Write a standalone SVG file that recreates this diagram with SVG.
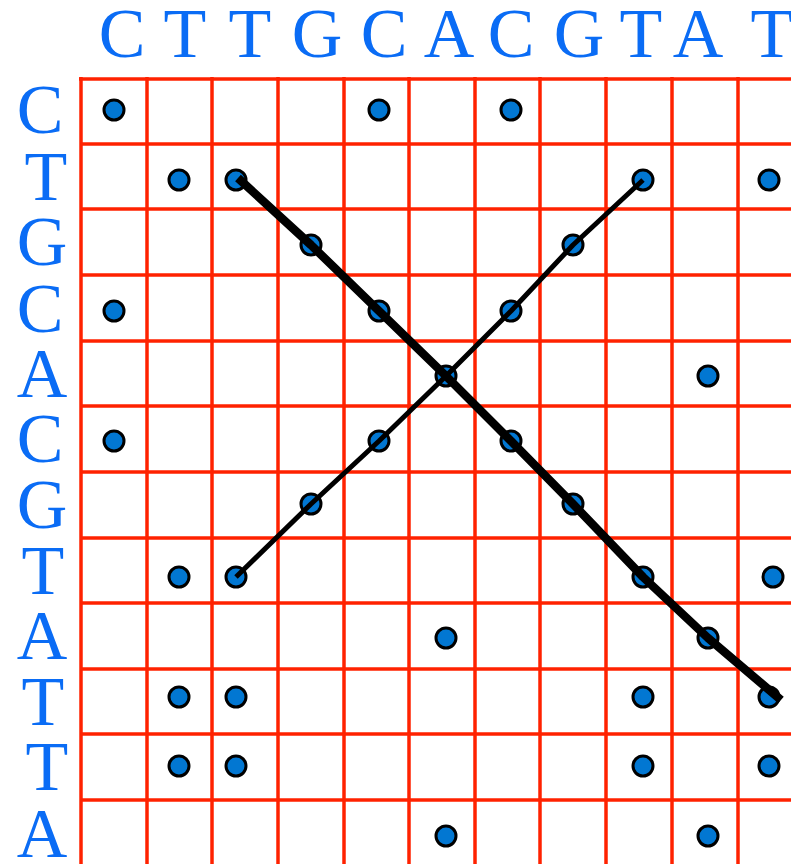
<svg xmlns="http://www.w3.org/2000/svg" width="791" height="864" viewBox="0 0 791 864">
<style>
.lbl{font-family:"Liberation Serif","Times New Roman",serif;font-size:70px;fill:#0a6cf5;text-anchor:middle}
.grid line{stroke:#ff2200;stroke-width:3.5}
.dot{fill:#0277d2;stroke:#000;stroke-width:3}
.thick{fill:none;stroke:#000;stroke-width:8.5;stroke-linejoin:round}
.thin{fill:none;stroke:#000;stroke-width:5;stroke-linejoin:round}
</style>
<rect width="791" height="864" fill="#fff"/>
<g id="top-labels">
<text class="lbl" x="122" y="57">C</text>
<text class="lbl" x="185" y="57">T</text>
<text class="lbl" x="250" y="57">T</text>
<text class="lbl" x="317" y="57">G</text>
<text class="lbl" x="384" y="57">C</text>
<text class="lbl" x="449" y="57">A</text>
<text class="lbl" x="511" y="57">C</text>
<text class="lbl" x="579" y="57">G</text>
<text class="lbl" x="641" y="57">T</text>
<text class="lbl" x="698" y="57">A</text>
<text class="lbl" x="772" y="57">T</text>
</g>
<g id="left-labels">
<text class="lbl" x="40" y="133">C</text>
<text class="lbl" x="46" y="200">T</text>
<text class="lbl" x="42" y="265">G</text>
<text class="lbl" x="40" y="332">C</text>
<text class="lbl" x="42" y="397">A</text>
<text class="lbl" x="40" y="462">C</text>
<text class="lbl" x="42" y="528">G</text>
<text class="lbl" x="43" y="594">T</text>
<text class="lbl" x="42" y="659">A</text>
<text class="lbl" x="43" y="725">T</text>
<text class="lbl" x="47" y="790">T</text>
<text class="lbl" x="42" y="857">A</text>
</g>
<g id="grid" class="grid">
<line x1="81" y1="77" x2="81" y2="864"/>
<line x1="147" y1="77" x2="147" y2="864"/>
<line x1="212" y1="77" x2="212" y2="864"/>
<line x1="278" y1="77" x2="278" y2="864"/>
<line x1="344" y1="77" x2="344" y2="864"/>
<line x1="409" y1="77" x2="409" y2="864"/>
<line x1="475" y1="77" x2="475" y2="864"/>
<line x1="540" y1="77" x2="540" y2="864"/>
<line x1="606" y1="77" x2="606" y2="864"/>
<line x1="672" y1="77" x2="672" y2="864"/>
<line x1="738" y1="77" x2="738" y2="864"/>
<line x1="79" y1="79" x2="791" y2="79"/>
<line x1="81" y1="144" x2="791" y2="144"/>
<line x1="81" y1="209" x2="791" y2="209"/>
<line x1="81" y1="275" x2="791" y2="275"/>
<line x1="81" y1="341" x2="791" y2="341"/>
<line x1="81" y1="406" x2="791" y2="406"/>
<line x1="81" y1="472" x2="791" y2="472"/>
<line x1="81" y1="538" x2="791" y2="538"/>
<line x1="81" y1="603" x2="791" y2="603"/>
<line x1="81" y1="669" x2="791" y2="669"/>
<line x1="81" y1="734" x2="791" y2="734"/>
<line x1="81" y1="800" x2="791" y2="800"/>
</g>
<g id="dots">
<circle class="dot" cx="114" cy="110" r="10"/>
<circle class="dot" cx="379" cy="110" r="10"/>
<circle class="dot" cx="511" cy="110" r="10"/>
<circle class="dot" cx="179" cy="180" r="10"/>
<circle class="dot" cx="236" cy="180" r="10"/>
<circle class="dot" cx="643" cy="180" r="10"/>
<circle class="dot" cx="769" cy="180" r="10"/>
<circle class="dot" cx="311" cy="245" r="10"/>
<circle class="dot" cx="573" cy="245" r="10"/>
<circle class="dot" cx="114" cy="311" r="10"/>
<circle class="dot" cx="379" cy="311" r="10"/>
<circle class="dot" cx="511" cy="311" r="10"/>
<circle class="dot" cx="446" cy="376" r="10"/>
<circle class="dot" cx="708" cy="376" r="10"/>
<circle class="dot" cx="114" cy="441" r="10"/>
<circle class="dot" cx="379" cy="441" r="10"/>
<circle class="dot" cx="511" cy="441" r="10"/>
<circle class="dot" cx="311" cy="504" r="10"/>
<circle class="dot" cx="573" cy="504" r="10"/>
<circle class="dot" cx="179" cy="577" r="10"/>
<circle class="dot" cx="236" cy="577" r="10"/>
<circle class="dot" cx="643" cy="577" r="10"/>
<circle class="dot" cx="773" cy="577" r="10"/>
<circle class="dot" cx="446" cy="638" r="10"/>
<circle class="dot" cx="708" cy="638" r="10"/>
<circle class="dot" cx="179" cy="697" r="10"/>
<circle class="dot" cx="236" cy="697" r="10"/>
<circle class="dot" cx="643" cy="697" r="10"/>
<circle class="dot" cx="769" cy="697" r="10"/>
<circle class="dot" cx="179" cy="766" r="10"/>
<circle class="dot" cx="236" cy="766" r="10"/>
<circle class="dot" cx="643" cy="766" r="10"/>
<circle class="dot" cx="769" cy="766" r="10"/>
<circle class="dot" cx="446" cy="836" r="10"/>
<circle class="dot" cx="708" cy="836" r="10"/>
</g>
<g id="connectors">
<polyline class="thick" points="238,178 311,245 379,311 446,376 511,441 573,504 643,577 708,638 781,700"/>
<polyline class="thin" points="236,577 311,504 379,441 446,376 511,311 573,245 643,180"/>
</g>
</svg>
